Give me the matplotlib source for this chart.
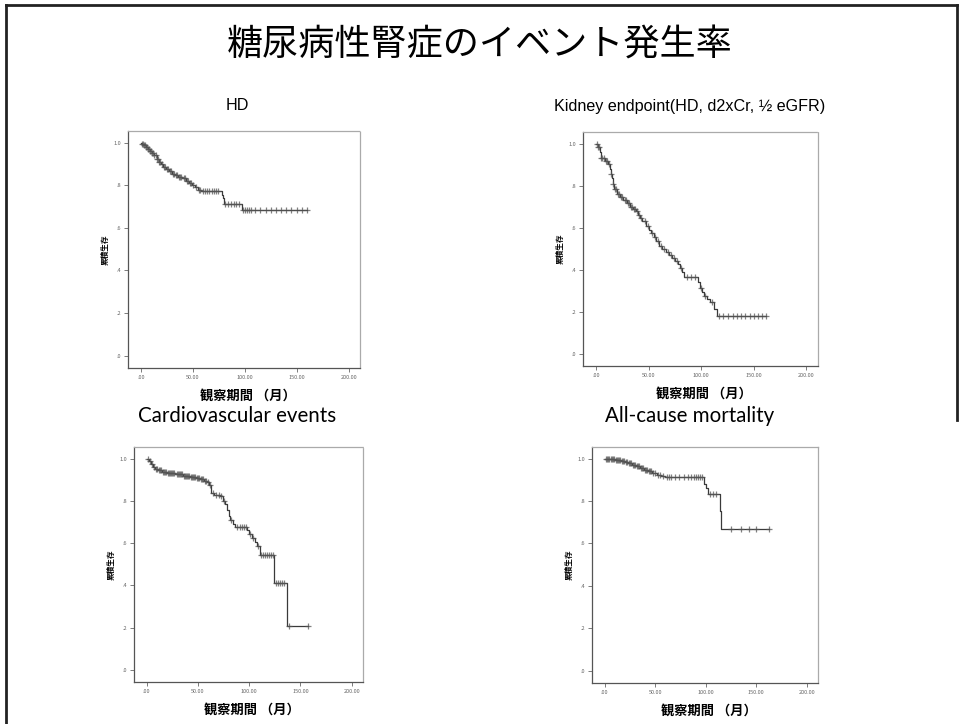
import numpy as np
import matplotlib.pyplot as plt
from matplotlib.lines import Line2D

plt.rcParams['font.family'] = ['Noto Sans CJK JP', 'DejaVu Sans']

# --- HD ---
hd_t = [1, 3, 5, 7, 9, 11, 13, 15, 17, 19, 21, 24, 27, 30, 33, 36, 40, 43, 46, 49, 52, 55, 58, 78, 79, 80, 97]
hd_s = [.995, .99, .98, .972, .962, .95, .94, .925, .91, .898, .885, .875, .865, .855, .848, .84, .832, .822,
        .812, .80, .79, .78, .774, .755, .74, .71, .685]
hd_end = 160
hd_cens = [1, 2, 3, 4, 5, 6, 7, 8, 9, 10, 11, 12, 13, 14, 15, 16, 17, 18, 20, 22, 23, 25, 26, 28, 29, 31, 32,
           34, 35, 37, 38, 39, 41, 42, 44, 45, 47, 48, 50, 53, 56, 57, 60, 62, 64, 66, 68, 70, 72, 74, 81, 84,
           87, 90, 92, 94, 98, 100, 102, 104, 106, 110, 115, 120, 125, 130, 135, 140, 145, 150, 155, 160]

# --- Kidney endpoint ---
kid_t = [2, 4, 5, 8, 11, 13, 14, 15, 16, 17, 20, 23, 26, 29, 32, 35, 38, 40, 42, 44, 47, 50, 52, 55, 57, 60,
         63, 66, 69, 72, 75, 78, 80, 82, 84, 97, 99, 101, 103, 105, 108, 112, 115]
kid_s = [.985, .96, .93, .915, .905, .88, .855, .835, .81, .785, .76, .745, .73, .715, .70, .69, .677, .66,
         .645, .63, .61, .59, .575, .555, .535, .515, .50, .485, .47, .455, .44, .425, .41, .39, .365, .34,
         .315, .295, .275, .26, .245, .215, .18]
kid_end = 162
kid_cens = [1, 2, 3, 5, 6, 7, 9, 10, 12, 14, 16, 18, 19, 21, 22, 24, 25, 27, 28, 30, 31, 33, 34, 36, 37, 39,
            41, 43, 46, 49, 53, 56, 59, 62, 65, 68, 71, 74, 77, 81, 86, 90, 94, 100, 104, 110, 117, 121, 125,
            130, 134, 138, 142, 146, 150, 154, 158, 162]

# --- Cardiovascular events ---
cv_t = [2, 4, 6, 8, 11, 15, 20, 28, 35, 42, 48, 52, 56, 59, 61, 63, 66, 71, 74, 76, 78, 80, 81, 84, 86, 98,
        100, 103, 106, 108, 110, 124, 137]
cv_s = [.99, .975, .962, .953, .945, .937, .932, .926, .92, .913, .908, .903, .896, .889, .874, .835, .83,
        .825, .80, .787, .756, .73, .708, .69, .677, .66, .645, .625, .606, .585, .543, .41, .205]
cv_end = 157
cv_cens = [1, 3, 5, 7, 9, 10, 12, 13, 14, 16, 17, 18, 19, 21, 22, 23, 24, 25, 26, 27, 29, 30, 31, 32, 33, 34,
           36, 37, 38, 39, 40, 41, 43, 44, 45, 46, 47, 49, 50, 51, 53, 54, 55, 57, 58, 60, 62, 65, 68, 70, 72,
           75, 82, 88, 91, 93, 95, 97, 101, 104, 109, 111, 113, 115, 117, 119, 121, 123, 126, 128, 130, 132,
           134, 139, 157]

# --- All-cause mortality ---
ac_t = [5, 10, 16, 20, 23, 27, 31, 35, 39, 43, 47, 52, 56, 60, 98, 100, 102, 114, 115]
ac_s = [.997, .993, .99, .985, .98, .972, .965, .957, .948, .94, .933, .925, .92, .915, .88, .86, .833,
        .755, .667]
ac_end = 163
ac_cens = [1, 2, 3, 4, 6, 7, 8, 9, 11, 12, 13, 14, 15, 17, 18, 19, 21, 22, 24, 25, 26, 28, 29, 30, 32, 33,
           34, 36, 37, 38, 40, 41, 42, 44, 45, 46, 48, 50, 53, 55, 58, 62, 64, 66, 70, 74, 78, 82, 85, 88, 90,
           92, 94, 96, 104, 107, 110, 125, 135, 143, 150, 163]

xticks = [0, 50, 100, 150, 200]
xticklabels = ['.00', '50.00', '100.00', '150.00', '200.00']
yticks = [0, .2, .4, .6, .8, 1.0]
yticklabels = ['.0', '.2', '.4', '.6', '.8', '1.0']

W, H = 960, 724
fig = plt.figure(figsize=(9.6, 7.24), dpi=100)


def px_axes(l, t, r, b):
    return fig.add_axes([l / W, 1 - b / H, (r - l) / W, (b - t) / H])


def km(ax, t, s, end, cens):
    tt = np.concatenate([[0], t, [end]])
    ss = np.concatenate([[1.0], s, [s[-1]]])
    ax.step(tt, ss, where='post', color='#3a3a3a', lw=0.9)
    idx = np.searchsorted(tt, cens, side='right') - 1
    ax.plot(cens, ss[idx], ls='none', marker='+', ms=4, mew=0.9, color='#555555', alpha=0.75)
    ax.set_xlim(-12.5, 211)
    ax.set_ylim(-0.058, 1.055)
    ax.set_xticks(xticks)
    ax.set_xticklabels(xticklabels)
    ax.set_yticks(yticks)
    ax.set_yticklabels(yticklabels)
    ax.tick_params(labelsize=4, colors='#666666', length=3, width=0.6, pad=2)
    for side in ['top', 'right']:
        ax.spines[side].set_color('#aaaaaa')
        ax.spines[side].set_linestyle((0, (1, 1)))
        ax.spines[side].set_linewidth(0.9)
    for side in ['left', 'bottom']:
        ax.spines[side].set_color('#555555')
        ax.spines[side].set_linewidth(0.9)


panels = [
    ((128, 131, 360, 368), hd_t, hd_s, hd_end, hd_cens),
    ((583, 132, 818, 366), kid_t, kid_s, kid_end, kid_cens),
    ((134, 447, 363, 682), cv_t, cv_s, cv_end, cv_cens),
    ((592, 447, 818, 683), ac_t, ac_s, ac_end, ac_cens),
]
for box, t, s, end, cens in panels:
    ax = px_axes(*box)
    km(ax, t, s, end, cens)
    l, top, r, b = box
    fig.text((l + r) / 2 / W + 0.004, 1 - (b + 28) / H, '観察期間 （月）', ha='center', va='center',
             fontsize=9.5, fontweight='bold')
    fig.text((l - 23) / W, 1 - (top + b) / 2 / H, '累積生存', ha='center', va='center',
             rotation=90, fontsize=5.5, fontweight='bold')

# slide title and panel headings
fig.text(0.5, 1 - 45 / H, '糖尿病性腎症のイベント発生率', ha='center', va='center', fontsize=26)
sub = dict(ha='center', va='center', fontsize=11.6, family=['Liberation Sans', 'DejaVu Sans'])
fig.text(237 / W, 1 - 106 / H, 'HD', **sub)
fig.text(690 / W, 1 - 106 / H, 'Kidney endpoint(HD, d2xCr, ½ eGFR)', **sub)
sub2 = dict(ha='center', va='center', fontsize=14.8, family=['Lato', 'DejaVu Sans'])
fig.text(237 / W, 1 - 416 / H, 'Cardiovascular events', **sub2)
fig.text(690 / W, 1 - 416 / H, 'All-cause mortality', **sub2)

# slide frame
frame = dict(color='#222222', lw=2, transform=fig.transFigure)
fig.add_artist(Line2D([6 / W, 6 / W], [0, 1 - 5 / H], **frame))
fig.add_artist(Line2D([6 / W, 957 / W], [1 - 5 / H, 1 - 5 / H], **frame))
fig.add_artist(Line2D([957 / W, 957 / W], [1 - 5 / H, 1 - 420 / H], **frame))

fig.savefig('out.png', dpi=100)
